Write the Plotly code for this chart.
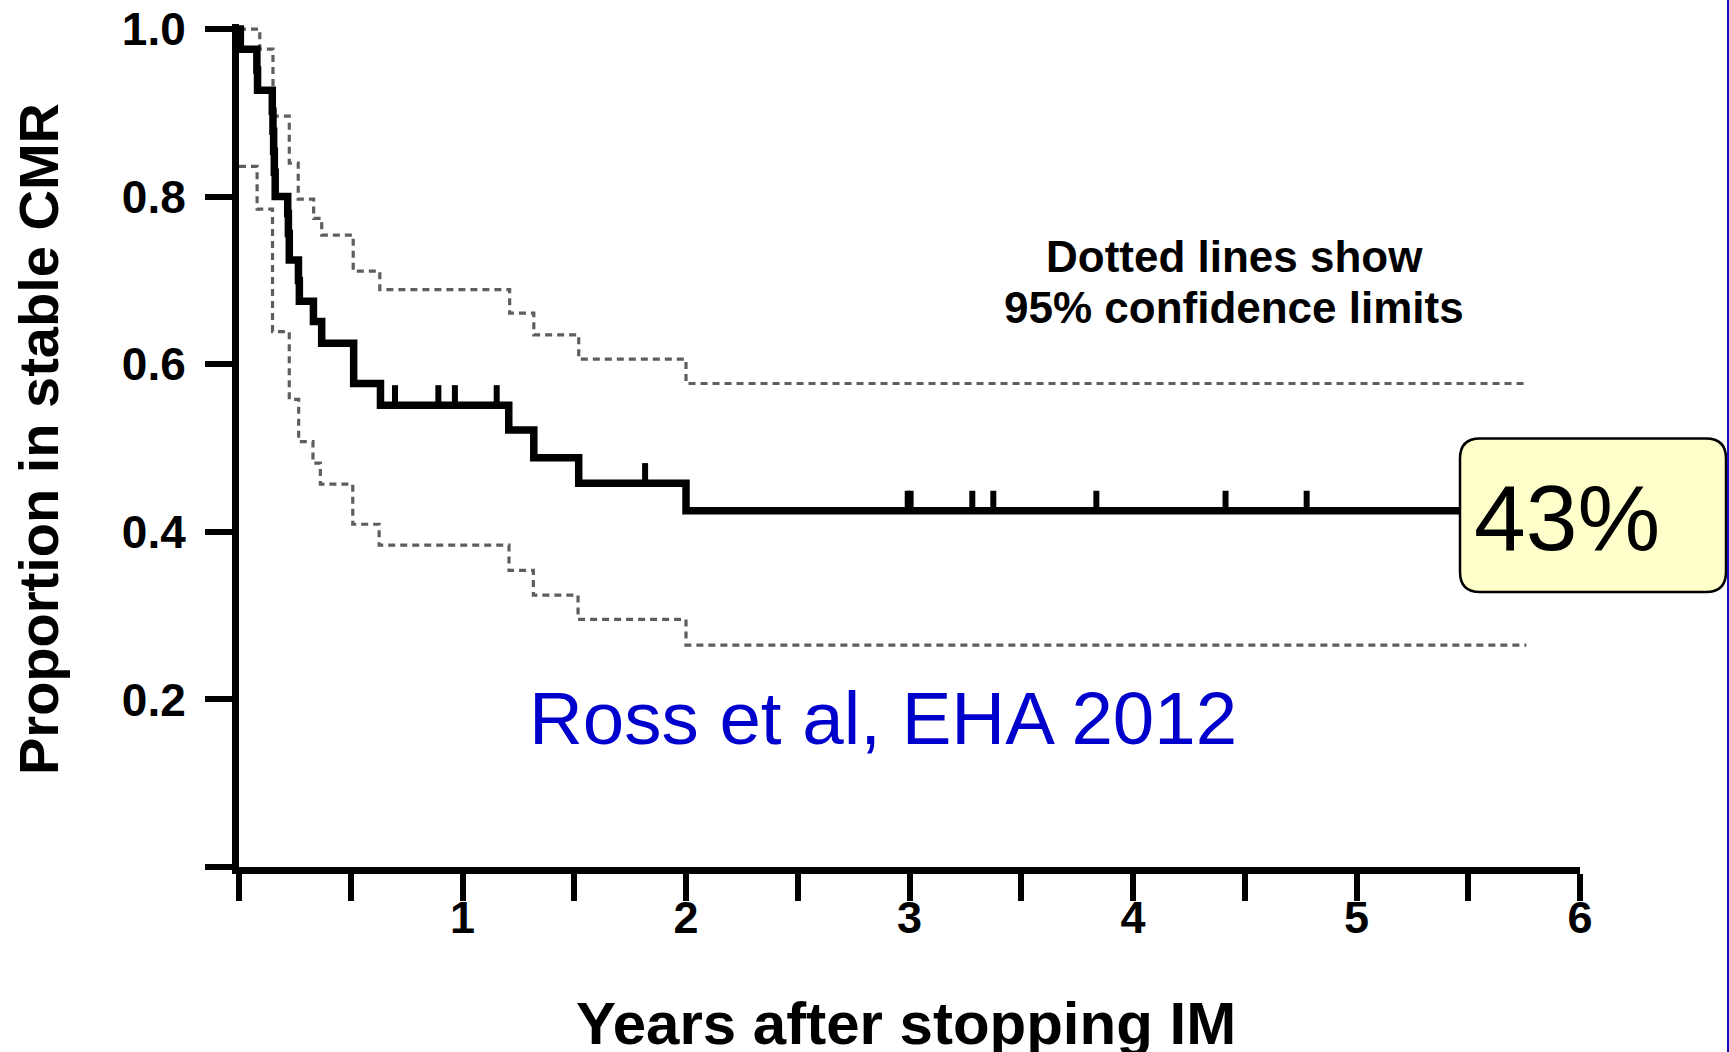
import plotly.graph_objects as go

# ---------------- data ----------------
km_t = [0, 0.006, 0.08, 0.083, 0.149, 0.152, 0.155, 0.158, 0.162, 0.218, 0.221, 0.225,
        0.266, 0.27, 0.333, 0.37, 0.513, 0.633, 1.207, 1.319, 1.52, 2.0, 5.76]
km_s = [1.0, 0.976, 0.951, 0.927, 0.902, 0.878, 0.854, 0.829, 0.80, 0.78, 0.756, 0.7245,
        0.70, 0.675, 0.651, 0.625, 0.577, 0.551, 0.5216, 0.4885, 0.458, 0.425, 0.425]

upper_t = [0, 0.093, 0.152, 0.225, 0.265, 0.334, 0.370, 0.511, 0.630, 1.211, 1.319, 1.52, 2.0, 5.76]
upper_s = [1.0, 0.976, 0.896, 0.840, 0.797, 0.774, 0.754, 0.711, 0.689, 0.661, 0.635, 0.606, 0.577, 0.577]

lower_t = [0, 0.081, 0.15, 0.225, 0.267, 0.331, 0.364, 0.509, 0.627, 1.208, 1.317, 1.517, 2.0, 5.76]
lower_s = [0.836, 0.785, 0.639, 0.558, 0.5076, 0.482, 0.457, 0.409, 0.384, 0.354, 0.3245, 0.2955, 0.2648, 0.2648]

censor_t = [0.698, 0.892, 0.966, 1.153, 1.817, 2.992, 3.005, 3.281, 3.375, 3.836, 4.414, 4.777]

x_tickvals = [0, 0.5, 1, 1.5, 2, 2.5, 3, 3.5, 4, 4.5, 5, 5.5, 6]
x_ticktext = ["", "", "1", "", "2", "", "3", "", "4", "", "5", "", "6"]
y_tickvals = [0, 0.2, 0.4, 0.6, 0.8, 1.0]
y_ticktext = ["", "0.2", "0.4", "0.6", "0.8", "1.0"]

final_label = "43%"
# ----------------------------------------------------------------

W, H = 1729, 1052
ML, MR, MT, MB = 239, 149, 24, 185
PW, PH = W - ML - MR, H - MT - MB


def px(X):
    return (X - ML) / PW


def py(Y):
    return (H - MB - Y) / PH


def km_at(t):
    v = km_s[0]
    for tt, ss in zip(km_t, km_s):
        if tt <= t:
            v = ss
    return v


FONT = "Liberation Sans, Arial, Helvetica, sans-serif"
CI_COLOR = "#5e5e5e"

fig = go.Figure()

fig.add_trace(go.Scatter(x=upper_t, y=upper_s, mode="lines", line_shape="hv",
                         line=dict(color=CI_COLOR, width=3.2, dash="7px,5px"),
                         hoverinfo="skip", showlegend=False))
fig.add_trace(go.Scatter(x=lower_t, y=lower_s, mode="lines", line_shape="hv",
                         line=dict(color=CI_COLOR, width=3.2, dash="7px,5px"),
                         hoverinfo="skip", showlegend=False))
fig.add_trace(go.Scatter(x=km_t, y=km_s, mode="lines", line_shape="hv",
                         line=dict(color="black", width=7.5),
                         showlegend=False))

cx, cy = [], []
for t in censor_t:
    v = km_at(t)
    cx += [t, t, None]
    cy += [v, v + 0.024, None]
fig.add_trace(go.Scatter(x=cx, y=cy, mode="lines",
                         line=dict(color="black", width=6),
                         hoverinfo="skip", showlegend=False))

fig.update_layout(
    width=W, height=H,
    margin=dict(l=ML, r=MR, t=MT, b=MB, autoexpand=False),
    paper_bgcolor="white", plot_bgcolor="white",
    showlegend=False,
    font=dict(family=FONT, color="black"),
    xaxis=dict(range=[0, 6], tickvals=x_tickvals, ticktext=x_ticktext,
               showgrid=False, zeroline=False, showline=True, linecolor="black", linewidth=7,
               ticks="outside", ticklen=27, tickwidth=5.5, tickcolor="black",
               tickfont=dict(size=45, family=FONT, weight="bold", color="black"),
               ticklabelstandoff=-22, automargin=False,
               fixedrange=True),
    yaxis=dict(range=[0, 1.006], tickvals=y_tickvals, ticktext=y_ticktext,
               showgrid=False, zeroline=False, showline=True, linecolor="black", linewidth=7,
               ticks="outside", ticklen=27, tickwidth=5.5, tickcolor="black",
               tickfont=dict(size=46, family=FONT, weight="bold", color="black"),
               ticklabelstandoff=10, automargin=False,
               fixedrange=True),
)

# axis titles
fig.add_annotation(xref="paper", yref="paper", x=px(38), y=py(439), showarrow=False,
                   text="Proportion in stable CMR", textangle=-90,
                   font=dict(size=56, family=FONT, weight="bold", color="black"),
                   xanchor="center", yanchor="middle")
fig.add_annotation(xref="paper", yref="paper", x=px(906), y=py(1023), showarrow=False,
                   text="Years after stopping IM",
                   font=dict(size=60, family=FONT, weight="bold", color="black"),
                   xanchor="center", yanchor="middle")

# note about the dotted lines
fig.add_annotation(xref="paper", yref="paper", x=px(1234), y=py(256), showarrow=False,
                   text="Dotted lines show",
                   font=dict(size=44, family=FONT, weight="bold", color="black"),
                   xanchor="center", yanchor="middle")
fig.add_annotation(xref="paper", yref="paper", x=px(1234), y=py(307.5), showarrow=False,
                   text="95% confidence limits",
                   font=dict(size=44, family=FONT, weight="bold", color="black"),
                   xanchor="center", yanchor="middle")

# citation
fig.add_annotation(xref="paper", yref="paper", x=px(883), y=py(718), showarrow=False,
                   text="Ross et al, EHA 2012",
                   font=dict(size=74.5, family=FONT, color="#0000cc"),
                   xanchor="center", yanchor="middle")

# rounded yellow box with the final value
L, R, T, B, r = 1460, 1726, 438.5, 592, 20
x0, x1, y0, y1 = px(L), px(R), py(B), py(T)
rx, ry = r / PW, r / PH
path = (f"M {x0 + rx},{y1} L {x1 - rx},{y1} Q {x1},{y1} {x1},{y1 - ry} "
        f"L {x1},{y0 + ry} Q {x1},{y0} {x1 - rx},{y0} "
        f"L {x0 + rx},{y0} Q {x0},{y0} {x0},{y0 + ry} "
        f"L {x0},{y1 - ry} Q {x0},{y1} {x0 + rx},{y1} Z")
fig.add_shape(type="path", xref="paper", yref="paper", path=path,
              fillcolor="#ffffcc", line=dict(color="black", width=2.5), layer="above")
fig.add_annotation(xref="paper", yref="paper", x=px(1567), y=py(518), showarrow=False,
                   text=final_label,
                   font=dict(size=93, family=FONT, color="black"),
                   xanchor="center", yanchor="middle")

# thin blue slide border at the right edge
fig.add_shape(type="line", xref="paper", yref="paper",
              x0=px(1728), x1=px(1728), y0=py(H), y1=py(0),
              line=dict(color="#1010c0", width=2), layer="above")

fig.write_html("out.html")
